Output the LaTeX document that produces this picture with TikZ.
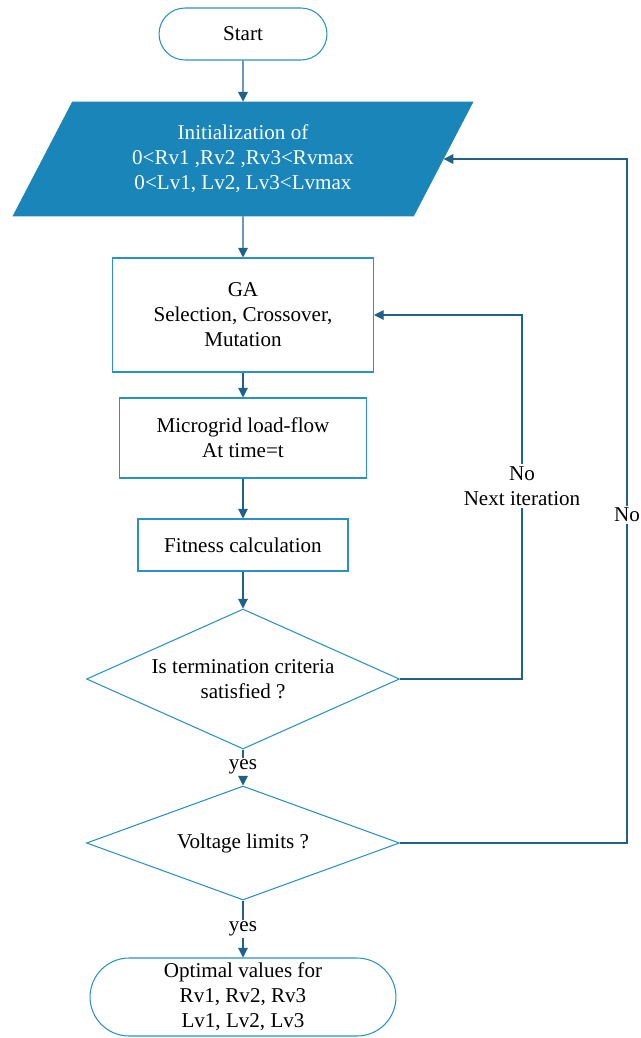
\documentclass[tikz,border=0pt]{standalone}
\usepackage{fontspec}
\setmainfont{Liberation Serif}
\usetikzlibrary{shapes.geometric,shapes.misc,arrows.meta}
\definecolor{lineblue}{RGB}{42,145,200}
\definecolor{arrowblue}{RGB}{30,98,140}
\definecolor{fillblue}{RGB}{25,133,185}

\begin{document}
\begin{tikzpicture}[
    x=0.02cm, y=-0.02cm,
    every node/.style={font=\fontsize{12}{14.2}\selectfont, align=center},
    terminal/.style={rounded rectangle, draw=lineblue, line width=0.6pt, inner sep=2pt},
    process/.style={rectangle, draw=lineblue, line width=0.6pt},
    inputbox/.style={trapezium, trapezium left angle=63, trapezium right angle=117,
        trapezium stretches=true, fill=fillblue, draw=fillblue, text=white},
    decision/.style={diamond, draw=lineblue, line width=0.6pt, inner sep=0pt},
    flow/.style={draw=arrowblue, line width=0.6pt, -{Triangle[width=5.5pt,length=5.5pt]}},
    link/.style={draw=arrowblue, line width=0.6pt},
    tag/.style={fill=white, inner sep=1pt}
]
\useasboundingbox (0,0) rectangle (641,1038);

% Main column
\node[terminal, minimum width=3.5cm, minimum height=1.04cm] (start) at (243,34) {Start};
\node[inputbox, minimum width=9.22cm, minimum height=2.28cm] (init) at (243,159)
    {Initialization of\\0<Rv1 ,Rv2 ,Rv3<Rvmax\\0<Lv1, Lv2, Lv3<Lvmax};
\node[process, minimum width=5.22cm, minimum height=2.28cm] (ga) at (243,315)
    {GA\\Selection, Crossover,\\Mutation};
\node[process, minimum width=4.94cm, minimum height=1.6cm] (loadflow) at (243,438)
    {Microgrid load-flow\\At time=t};
\node[process, minimum width=4.2cm, minimum height=1.04cm] (fitness) at (243,545)
    {Fitness calculation};
\node[decision, aspect=2.3, minimum width=6.26cm, minimum height=2.8cm] (term) at (243,679)
    {Is termination criteria\\satisfied ?};
\node[decision, aspect=2.75, minimum width=6.26cm, minimum height=2.28cm] (volt) at (243,843)
    {Voltage limits ?};
\node[terminal, minimum width=6.26cm, minimum height=1.56cm] (optimal) at (243,997)
    {Optimal values for\\Rv1, Rv2, Rv3\\Lv1, Lv2, Lv3};

% Connector labels
\node[tag] (yesterm) at (243,767) {yes};
\node[tag] (yesvolt) at (243,929) {yes};
\node[tag] (noterm) at (522,486) {No\\Next iteration};
\node[tag] (novolt) at (627,515) {No};

% Straight flow
\draw[flow] (start) -- (init);
\draw[flow] (init) -- (ga);
\draw[flow] (ga) -- (loadflow);
\draw[flow] (loadflow) -- (fitness);
\draw[flow] (fitness) -- (term);
\draw[link] (term.south) -- (yesterm.north);
\draw[flow] (yesterm.south) -- (volt.north);
\draw[link] (volt.south) -- (yesvolt.north);
\draw[flow] (yesvolt.south) -- (optimal.north);

% Feedback loops
\draw[link] (term.east) -| (noterm.south);
\draw[flow] (noterm.north) |- (ga.east);
\draw[link] (volt.east) -| (novolt.south);
\draw[flow] (novolt.north) |- (init.east);

\end{tikzpicture}
\end{document}
